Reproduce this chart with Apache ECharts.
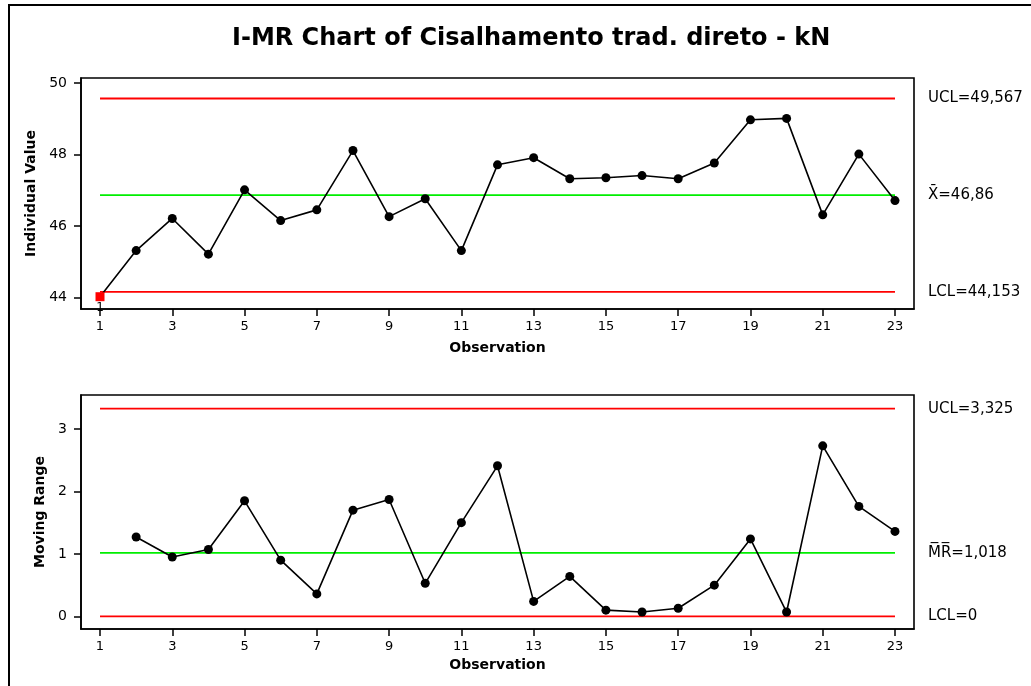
<!DOCTYPE html>
<html>
<head>
<meta charset="utf-8">
<script src="https://cdn.jsdelivr.net/npm/echarts@6/dist/echarts.min.js"></script>
<style>
  html, body { margin: 0; padding: 0; background: #fff; }
  #chart { width: 1031px; height: 686px; }
</style>
</head>
<body>
<div id="chart"></div>
<script>
// Observation numbers
const observations = [1,2,3,4,5,6,7,8,9,10,11,12,13,14,15,16,17,18,19,20,21,22,23];
// Individual shear values (kN)
const individualValues = [44.02,45.31,46.21,45.21,47.01,46.15,46.45,48.11,46.26,46.76,45.31,47.71,
                          47.91,47.32,47.35,47.41,47.32,47.76,48.97,49.01,46.31,48.01,46.71];
// Moving ranges (from observation 2 on)
const movingRanges = [1.27,0.95,1.07,1.85,0.90,0.36,1.70,1.87,0.53,1.50,2.41,
                      0.24,0.64,0.10,0.07,0.13,0.50,1.24,0.07,2.73,1.76,1.36];
// Control limits
const iLimits = { ucl: 49.567, center: 46.86, lcl: 44.153 };
const mrLimits = { ucl: 3.325, center: 1.018, lcl: 0 };
const iLimitLabels = { ucl: 'UCL=49,567', center: 'X\u0304=46,86', lcl: 'LCL=44,153' };
const mrLimitLabels = { ucl: 'UCL=3,325', center: 'M\u0305R\u0305=1,018', lcl: 'LCL=0' };
// Points flagged by test 1
const flaggedPoints = [1];
// Tick labels
const xTicks = [1,3,5,7,9,11,13,15,17,19,21,23];
const iTicks = [44,46,48,50];
const mrTicks = [0,1,2,3];

const FONT = "'DejaVu Sans', sans-serif";
const first = observations[0], last = observations[observations.length - 1];

function limitSeries(value, color, text, xIdx, yIdx) {
  return {
    type: 'line', xAxisIndex: xIdx, yAxisIndex: yIdx,
    data: [[first, value], [last, value]],
    symbol: 'none', silent: true, z: 1,
    lineStyle: { color: color, width: 1.8 },
    endLabel: {
      show: true, formatter: text, distance: 33,
      color: '#000', fontFamily: FONT, fontSize: 15
    }
  };
}

const iData = observations.map((x, i) => {
  const item = { value: [x, individualValues[i]] };
  if (flaggedPoints.includes(x)) {
    item.symbol = 'rect';
    item.symbolSize = 9;
    item.itemStyle = { color: '#ff0000' };
    item.label = { show: true, formatter: '1', position: 'bottom', distance: 1,
                   color: '#000', fontFamily: FONT, fontSize: 12 };
  }
  return item;
});
const mrData = movingRanges.map((v, i) => [observations[i + 1], v]);

function xAxisCfg(gridIndex, nameGap) {
  return {
    type: 'value', gridIndex: gridIndex, min: 0.474, max: 23.526,
    name: 'Observation', nameLocation: 'middle', nameGap: nameGap,
    nameTextStyle: { fontFamily: FONT, fontWeight: 'bold', fontSize: 14, color: '#000' },
    axisLine: { show: true, onZero: false, lineStyle: { color: '#000', width: 1.6 } },
    axisTick: { show: true, length: 7, customValues: xTicks, lineStyle: { color: '#000', width: 1.5 } },
    axisLabel: { customValues: xTicks, margin: 11, fontFamily: FONT, fontSize: 13, color: '#000' },
    splitLine: { show: false }
  };
}
function yAxisCfg(gridIndex, min, max, ticks, name, nameGap) {
  return {
    type: 'value', gridIndex: gridIndex, min: min, max: max,
    name: name, nameLocation: 'middle', nameGap: nameGap,
    nameTextStyle: { fontFamily: FONT, fontWeight: 'bold', fontSize: 14, color: '#000' },
    axisLine: { show: true, onZero: false, lineStyle: { color: '#000', width: 1.6 } },
    axisTick: { show: true, length: 7, customValues: ticks, lineStyle: { color: '#000', width: 1.5 } },
    axisLabel: { customValues: ticks, margin: 14, fontFamily: FONT, fontSize: 14, color: '#000' },
    splitLine: { show: false }
  };
}

const chart = echarts.init(document.getElementById('chart'), null, { renderer: 'canvas' });
chart.setOption({
  animation: false,
  backgroundColor: '#fff',
  title: {
    text: 'I-MR Chart of Cisalhamento trad. direto - kN',
    left: 227, top: 22,
    textStyle: { fontFamily: FONT, fontWeight: 'bold', fontSize: 24, color: '#000' }
  },
  graphic: [{
    type: 'rect', silent: true, z: -1,
    shape: { x: 9, y: 5, width: 1100, height: 1000 },
    style: { fill: 'none', stroke: '#000', lineWidth: 2 }
  }],
  grid: [
    { left: 81, top: 78, width: 833, height: 231, show: true, borderColor: '#000', borderWidth: 1.6,
      outerBoundsMode: 'none' },
    { left: 81, top: 395, width: 833, height: 234, show: true, borderColor: '#000', borderWidth: 1.6,
      outerBoundsMode: 'none' }
  ],
  xAxis: [xAxisCfg(0, 32), xAxisCfg(1, 29)],
  yAxis: [
    yAxisCfg(0, 43.676, 50.14, iTicks, 'Individual Value', 39),
    yAxisCfg(1, -0.2014, 3.543, mrTicks, 'Moving Range', 29)
  ],
  series: [
    limitSeries(iLimits.ucl, '#ff0000', iLimitLabels.ucl, 0, 0),
    limitSeries(iLimits.center, '#00ee00', iLimitLabels.center, 0, 0),
    limitSeries(iLimits.lcl, '#ff0000', iLimitLabels.lcl, 0, 0),
    {
      type: 'line', xAxisIndex: 0, yAxisIndex: 0, data: iData, z: 3,
      symbol: 'circle', symbolSize: 9,
      lineStyle: { color: '#000', width: 1.6 }, itemStyle: { color: '#000' }
    },
    limitSeries(mrLimits.ucl, '#ff0000', mrLimitLabels.ucl, 1, 1),
    limitSeries(mrLimits.center, '#00ee00', mrLimitLabels.center, 1, 1),
    limitSeries(mrLimits.lcl, '#ff0000', mrLimitLabels.lcl, 1, 1),
    {
      type: 'line', xAxisIndex: 1, yAxisIndex: 1, data: mrData, z: 3,
      symbol: 'circle', symbolSize: 9,
      lineStyle: { color: '#000', width: 1.6 }, itemStyle: { color: '#000' }
    }
  ]
});
</script>
</body>
</html>
